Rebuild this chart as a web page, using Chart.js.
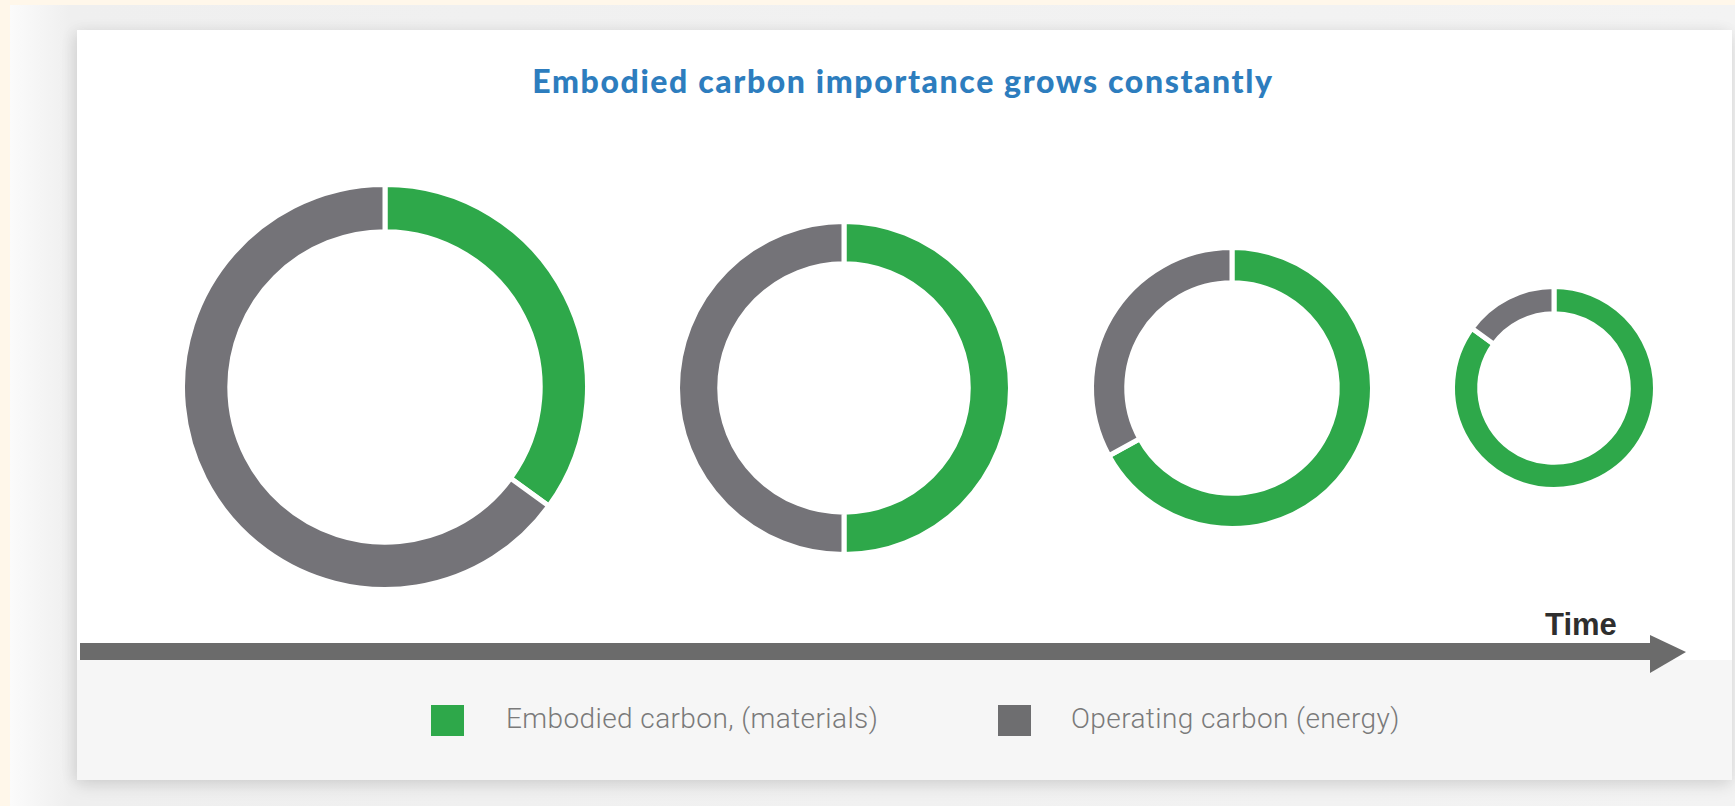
<!DOCTYPE html>
<html>
<head>
<meta charset="utf-8">
<script src="https://cdn.jsdelivr.net/npm/chart.js@4.4.1/dist/chart.umd.min.js"></script>
<style>
  html, body { margin: 0; padding: 0; }
  body {
    width: 1735px; height: 806px; overflow: hidden; position: relative;
    background: #fff7ea;
    font-family: "Lato", "Open Sans", sans-serif;
  }
  #frame {
    position: absolute; left: 10px; top: 5px; right: 0; bottom: 0;
    background: linear-gradient(90deg, #fbfbfb 0px, #efefef 60px, #f3f3f3 100%);
  }
  #card {
    position: absolute; left: 77px; top: 30px; width: 1655px; height: 750px;
    background: #ffffff;
    box-shadow: 0 6px 16px rgba(0,0,0,0.10), -4px 0 14px rgba(0,0,0,0.06);
  }
  #footer {
    position: absolute; left: 0; top: 630px; width: 100%; height: 120px;
    background: #f6f6f6;
  }
  #title {
    position: absolute; left: 0; top: 61px; width: 1806px; text-align: center;
    font-family: "Lato", sans-serif; font-weight: 900; font-size: 32px;
    color: #2d7dbe; letter-spacing: 1.6px; white-space: nowrap;
  }
  .ring { position: absolute; }
  #timeLabel {
    position: absolute; left: 1545px; top: 607px;
    font-family: "Liberation Sans", Arial, sans-serif; font-weight: bold; font-size: 31px;
    color: #2e2e2e;
  }
  #arrow { position: absolute; left: 0; top: 0; }
  .legend-item { position: absolute; top: 705px; height: 32px; }
  .legend-swatch { position: absolute; left: 0; top: 0; width: 33px; height: 31px; }
  .legend-text {
    position: absolute; top: -3px; white-space: nowrap;
    font-family: "Roboto", sans-serif; font-weight: 300; font-size: 28px;
    color: #7a7a7a; letter-spacing: 0.4px;
  }
</style>
</head>
<body>
<div id="frame"></div>
<div id="card"><div id="footer"></div></div>
<div id="title">Embodied carbon importance grows constantly</div>

<svg id="arrow" width="1735" height="806">
  <rect x="80" y="643" width="1572" height="17" fill="#6b6b6b"/>
  <polygon points="1650,635 1686,652 1650,673" fill="#6b6b6b"/>
</svg>
<div id="timeLabel">Time</div>

<div id="legend"></div>

<script>
// Share of each stage's carbon footprint, in percent (stages run left to right along time)
const stages = ['Stage 1', 'Stage 2', 'Stage 3', 'Stage 4'];
const embodiedShare = [35, 50, 67, 85];
const operatingShare = [65, 50, 33, 15];
const seriesLabels = ['Embodied carbon, (materials)', 'Operating carbon (energy)'];

// Ring styling and placement
const seriesColors = ['#2ea84a', '#747378'];
const swatchColors = ['#2ea84a', '#6e6e70'];
const ringCenters = [[385, 387], [844, 388], [1232, 388], [1554, 388]];
const ringOuter = [200, 164, 138, 99];
const ringInner = [160, 129, 110, 79];
const gapWidth = 5;

stages.forEach((stage, i) => {
  const pad = 8;
  const size = 2 * (ringOuter[i] + pad);
  const canvas = document.createElement('canvas');
  canvas.className = 'ring';
  canvas.width = size;
  canvas.height = size;
  canvas.style.width = size + 'px';
  canvas.style.height = size + 'px';
  canvas.style.left = (ringCenters[i][0] - size / 2) + 'px';
  canvas.style.top = (ringCenters[i][1] - size / 2) + 'px';
  document.body.appendChild(canvas);

  new Chart(canvas, {
    type: 'doughnut',
    data: {
      labels: seriesLabels,
      datasets: [{
        label: stage,
        data: [embodiedShare[i], operatingShare[i]],
        backgroundColor: seriesColors,
        borderColor: '#ffffff',
        borderWidth: gapWidth,
        borderAlign: 'center',
        hoverOffset: 0
      }]
    },
    options: {
      responsive: false,
      maintainAspectRatio: false,
      animation: false,
      radius: ringOuter[i] + gapWidth / 2,
      cutout: ringInner[i] - gapWidth / 2,
      layout: { padding: 0 },
      plugins: { legend: { display: false }, tooltip: { enabled: false } }
    }
  });
});

// Legend built from the same labels and colours
const legendPos = [[431, 506], [998, 1071]];
const legend = document.getElementById('legend');
seriesLabels.forEach((lab, i) => {
  const item = document.createElement('div');
  item.className = 'legend-item';
  item.style.left = legendPos[i][0] + 'px';
  const sw = document.createElement('div');
  sw.className = 'legend-swatch';
  sw.style.background = swatchColors[i];
  const tx = document.createElement('div');
  tx.className = 'legend-text';
  tx.style.left = (legendPos[i][1] - legendPos[i][0]) + 'px';
  tx.textContent = lab;
  item.appendChild(sw);
  item.appendChild(tx);
  legend.appendChild(item);
});
</script>
</body>
</html>
